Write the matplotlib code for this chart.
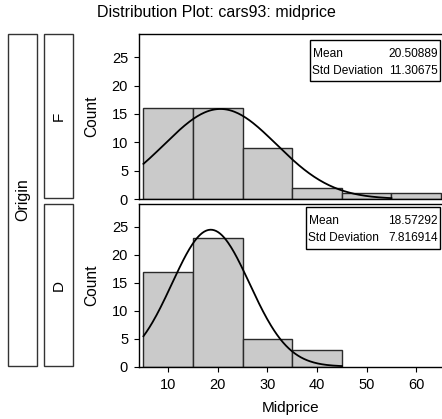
import numpy as np
import matplotlib
matplotlib.use("Agg")
import matplotlib.pyplot as plt
from matplotlib.patches import Rectangle

plt.rcParams['font.family'] = ['Liberation Sans', 'DejaVu Sans']

# histogram data (Midprice, cars93, split by Origin)
bin_edges = [5, 15, 25, 35, 45, 55, 65]
counts_F = [16, 16, 9, 2, 1, 1]
counts_D = [17, 23, 5, 3]
mean_F, sd_F, n_F = 20.50889, 11.30675, 45
mean_D, sd_D, n_D = 18.57292, 7.816914, 48
curve_F = [5, 55]
curve_D = [5, 45]
stat_F = ["20.50889", "11.30675"]
stat_D = ["18.57292", "7.816914"]
yticks = [0, 5, 10, 15, 20, 25]
xticks = [10, 20, 30, 40, 50, 60]

W, H = 442, 419
fig = plt.figure(figsize=(W / 100, H / 100), dpi=100)


def rect(x0, y0, x1, y1):
    # pixel box (top-left origin) -> figure fraction
    return [x0 / W, 1 - y1 / H, (x1 - x0) / W, (y1 - y0) / H]


def panel(ax, counts, mean, sd, n, crange, stats, box):
    edges = bin_edges[:len(counts) + 1]
    lefts = edges[:-1]
    widths = np.diff(edges)
    ax.bar(lefts, counts, width=widths, align='edge', color='#cacaca',
           edgecolor='#2a2a2a', linewidth=1.0)
    xs = np.linspace(crange[0], crange[1], 200)
    bw = widths[0]
    ys = n * bw / (sd * np.sqrt(2 * np.pi)) * np.exp(-0.5 * ((xs - mean) / sd) ** 2)
    ax.plot(xs, ys, color='black', lw=1.3)
    ax.set_xlim(4.0, 65.4)
    ax.set_ylim(0, 29.1)
    ax.set_yticks(yticks)
    ax.tick_params(axis='y', labelsize=10.5, length=3.5, pad=4, width=0.8)
    ax.set_ylabel("Count", fontsize=11.2, va='center')
    ax.yaxis.set_label_coords((92 - 138.5) / (443 - 138.5), 0.5)
    for s in ax.spines.values():
        s.set_linewidth(1.0)
    # stats box
    bx0, by0, bx1, by1 = box
    fig.patches.append(Rectangle((bx0 / W, 1 - by1 / H), (bx1 - bx0) / W,
                                 (by1 - by0) / H, transform=fig.transFigure,
                                 facecolor='white', edgecolor='black', lw=1.0,
                                 zorder=5))
    fs = 8.6
    fig.text((bx0 + 2.5) / W, 1 - (by0 + 14) / H, "Mean", fontsize=fs,
             ha='left', va='center', zorder=6)
    fig.text((bx0 + 2.5) / W, 1 - (by0 + 31) / H, "Std Deviation", fontsize=fs,
             ha='left', va='center', zorder=6)
    fig.text((bx1 - 2) / W, 1 - (by0 + 14) / H, stats[0], fontsize=fs,
             ha='right', va='center', zorder=6)
    fig.text((bx1 - 2) / W, 1 - (by0 + 31) / H, stats[1], fontsize=fs,
             ha='right', va='center', zorder=6)


ax1 = fig.add_axes(rect(138.5, 34, 443, 199))
panel(ax1, counts_F, mean_F, sd_F, n_F, curve_F, stat_F, (310, 40, 440, 81))
ax1.set_xticks([])

ax2 = fig.add_axes(rect(138.5, 204, 443, 366.5))
panel(ax2, counts_D, mean_D, sd_D, n_D, curve_D, stat_D, (306, 207, 440, 249))
ax2.set_xticks(xticks)
ax2.tick_params(axis='x', labelsize=10.5, length=3.5, pad=4.5, width=0.8)
ax2.set_xlabel("Midprice", fontsize=11, labelpad=7)

# strip boxes on the left
strips = [((8.3, 34, 37.3, 366), "Origin", 11.5),
          ((43.7, 34, 73.3, 198), "F", 11),
          ((43.7, 204, 73.3, 366), "D", 11)]
for (x0, y0, x1, y1), lab, fs in strips:
    fig.patches.append(Rectangle((x0 / W, 1 - y1 / H), (x1 - x0) / W,
                                 (y1 - y0) / H, transform=fig.transFigure,
                                 facecolor='white', edgecolor='#333333', lw=1.0))
    fig.text((x0 + x1) / 2 / W, 1 - (y0 + y1) / 2 / H, lab, rotation=90,
             fontsize=fs, ha='center', va='center')

fig.text(216 / W, 1 - 12 / H, "Distribution Plot: cars93: midprice",
         fontsize=11.5, ha='center', va='center')

fig.savefig("out.png", dpi=100)
